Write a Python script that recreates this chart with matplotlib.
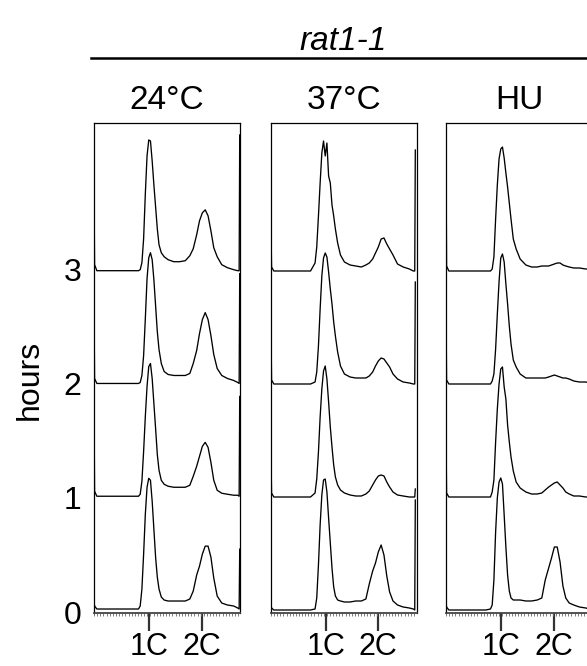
import numpy as np
import matplotlib
matplotlib.use("Agg")
import matplotlib.pyplot as plt
from matplotlib.lines import Line2D

plt.rcParams['font.family'] = ['Liberation Sans', 'DejaVu Sans']

# ---------------- data ----------------
strain = "rat1-1"
conditions = ["24°C", "37°C", "HU"]
hours = [0, 1, 2, 3]
hour_labels = ["0", "1", "2", "3"]
dna_ticks = [97, 189]            # DNA-content channel of 1C and 2C
dna_labels = ["1C", "2C"]

# DNA-content channels at which the histogram heights were read
channels = [0, 1, 5, 70, 78, 81, 84, 87, 90, 93, 96, 99, 102, 105, 108, 111, 114,
            118, 123, 130, 140, 150, 160, 168, 174, 180, 185, 190, 195, 200, 205,
            210, 216, 224, 234, 245, 252, 254.5, 255.5]

# cell counts (24°C)
c24_h0 = [8, 3, 0, 0, 0, 3, 20, 55, 95, 122, 131, 129, 108, 80, 52, 32, 20, 12, 9, 8, 8, 8, 8, 10, 18, 34, 43, 55, 63, 63, 52, 31, 13, 6, 4, 3, 1, 0, 60]
c24_h1 = [95, 5, 0, 0, 0, 2, 15, 45, 80, 110, 130, 133, 118, 93, 68, 42, 26, 16, 12, 10, 9, 9, 9, 11, 20, 30, 40, 50, 54, 49, 34, 16, 6, 3, 2, 1, 1, 0, 100]
c24_h2 = [80, 5, 0, 0, 0, 1, 8, 28, 65, 105, 126, 131, 124, 104, 78, 52, 34, 20, 12, 9, 8, 8, 8, 10, 20, 33, 50, 64, 71, 64, 48, 29, 15, 8, 5, 3, 1, 0, 110]
c24_h3 = [84, 6, 0, 0, 0, 1, 8, 32, 77, 115, 131, 130, 110, 86, 64, 42, 26, 18, 14, 11, 9, 9, 10, 15, 22, 36, 50, 58, 61, 55, 40, 23, 14, 6, 3, 1, 0, 0, 136]

# cell counts (37°C)
c37_h0 = [5, 2, 0, 0, 1, 12, 45, 85, 115, 130, 131, 118, 92, 67, 42, 23, 14, 10, 9, 8, 8, 9, 9, 11, 26, 39, 47, 58, 65, 55, 34, 18, 9, 5, 3, 2, 1, 0, 110]
c37_h1 = [40, 4, 0, 0, 4, 18, 45, 80, 108, 126, 131, 118, 95, 70, 50, 32, 20, 12, 7, 4, 2, 1, 1, 3, 6, 12, 17, 21, 22, 21, 15, 10, 5, 2, 1, 0, 0, 0, 8]
c37_h2 = [55, 4, 0, 0, 2, 12, 38, 75, 108, 126, 131, 127, 112, 95, 80, 62, 48, 32, 18, 10, 7, 6, 6, 6, 8, 12, 18, 23, 26, 25, 21, 17, 10, 5, 2, 1, 0, 0, 102]
c37_h3 = [39, 4, 0, 0, 8, 24, 55, 88, 118, 130, 115, 128, 95, 88, 66, 55, 42, 28, 16, 9, 6, 5, 4, 6, 8, 12, 18, 24, 32, 33, 27, 22, 16, 7, 4, 2, 0, 0, 121]

# cell counts (HU)
hu_h0 = [8, 3, 0, 0, 1, 5, 30, 78, 112, 128, 132, 126, 95, 63, 35, 19, 12, 10, 10, 10, 9, 9, 10, 12, 30, 42, 52, 63, 63, 48, 24, 12, 7, 5, 3, 2, 1, 0, 60]
hu_h1 = [65, 4, 0, 0, 0, 5, 17, 55, 88, 113, 128, 130, 110, 98, 72, 55, 40, 26, 15, 9, 5, 3, 3, 4, 7, 10, 12, 14, 15, 12, 9, 5, 3, 1, 1, 0, 0, 0, 60]
hu_h2 = [78, 4, 0, 0, 0, 3, 10, 35, 70, 102, 126, 130, 122, 100, 80, 58, 40, 24, 17, 10, 6, 6, 6, 6, 6, 7, 8, 9, 8, 7, 6, 6, 5, 3, 2, 2, 1, 0, 60]
hu_h3 = [119, 5, 0, 0, 0, 2, 14, 52, 86, 112, 122, 124, 113, 98, 84, 68, 52, 32, 22, 12, 6, 4, 4, 5, 5, 5, 6, 7, 8, 8, 6, 5, 4, 3, 3, 2, 2, 0, 60]

panels = [
    [c24_h0, c24_h1, c24_h2, c24_h3],
    [c37_h0, c37_h1, c37_h2, c37_h3],
    [hu_h0, hu_h1, hu_h2, hu_h3],
]

# ---------------- layout ----------------
W, H = 587, 666
fig = plt.figure(figsize=(W / 100, H / 100), dpi=100)
fig.patch.set_facecolor('white')

step = 113                       # vertical offset per hour (counts)
panel_left = [94, 271, 446]
panel_xmax = [256, 258.5, 256]
pw = 146
top, bottom = 123, 613
fs = 23

ch = np.array(channels)
for i, (cond, traces) in enumerate(zip(conditions, panels)):
    ax = fig.add_axes([panel_left[i] / W, 1 - bottom / H, pw / W, (bottom - top) / H])
    for hr, tr in zip(hours, traces):
        ax.plot(ch, np.array(tr) + hr * step, color='black', lw=0.95,
                solid_joinstyle='round')
    ax.set_xlim(0, panel_xmax[i])
    ax.set_ylim(-3, 487)
    for s in ax.spines.values():
        s.set_linewidth(0.9)
        s.set_color('black')
    ax.spines['bottom'].set_color('#444444')
    ax.spines['bottom'].set_linewidth(1.3)
    ax.set_xticks(dna_ticks)
    ax.set_xticklabels(dna_labels, fontsize=fs - 1)
    ax.set_xticks(np.arange(0, 257, 5.5), minor=True)
    ax.tick_params(axis='x', which='major', length=13, width=1.6, pad=1, color='#333333')
    ax.tick_params(axis='x', which='minor', length=2.2, width=0.6, color='#666666')
    if i == 0:
        ax.set_yticks([-4, 112, 226, 340])
        ax.set_yticklabels(hour_labels, fontsize=fs)
        ax.tick_params(axis='y', length=0, pad=9)
    else:
        ax.set_yticks([])
    ax.set_title(cond, fontsize=fs + 1, pad=10)

# headers
fig.text(343 / W, 1 - 41 / H, strain, fontsize=fs + 1, style='italic',
         ha='center', va='center')
fig.add_artist(Line2D([91 / W, 1.0], [1 - 58 / H, 1 - 58 / H], color='black', lw=1.8))
fig.text(30 / W, 1 - 380 / H, "hours", fontsize=fs, rotation=90,
         ha='center', va='center')

fig.savefig("out.png", dpi=100)
